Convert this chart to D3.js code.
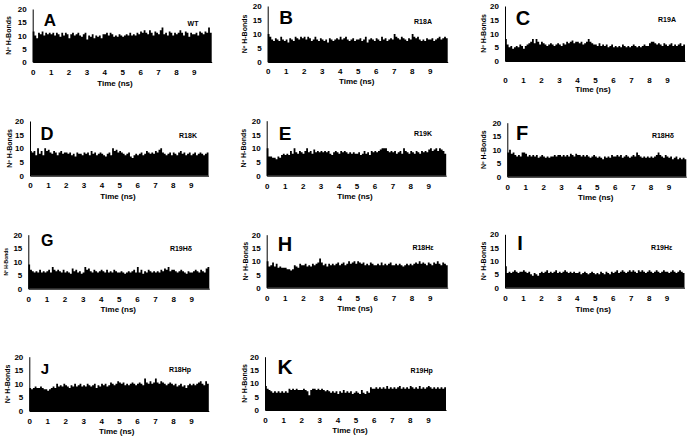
<!DOCTYPE html>
<html lang="en">
<head>
<meta charset="utf-8">
<title>H-Bonds panels</title>
<script src="https://cdn.jsdelivr.net/npm/d3@7"></script>
<style>
  body { margin: 0; background: #fff; }
  svg text { font-family: "Liberation Sans", Arial, sans-serif; font-weight: bold; fill: #000; }
</style>
</head>
<body>
<script>
// panel letters and series names
var letters = ["A", "B", "C", "D", "E", "F", "G", "H", "I", "J", "K"];
var names = ["WT", "R18A", "R19A", "R18K", "R19K", "R18H\u03b4", "R19H\u03b4", "R18H\u03b5", "R19H\u03b5", "R18Hp", "R19Hp"];
var yTicks = [0, 5, 10, 15, 20];
var xTicks = [0, 1, 2, 3, 4, 5, 6, 7, 8, 9];
var step = 0.1; // ns between samples

// number of H-bonds, one value every 0.1 ns
var wt = [11.5,10,9,11,10.5,11.5,10,11,10.5,11, 10.5,11,10,11,10.5,9.5,11,10,11,10.5,
  9,10.5,11,10,10.5,11,10,9.5,10.5,11, 8.5,10,9.5,10.5,9,10,9.5,10,9,10.5,
  10.5,11,10,11,10.5,9.5,10,9.5,10.5,10, 9.5,10,10.5,10,11,10,10.5,10,11,10.5,
  11.5,11,12,11,10.5,12,11,10,11.5,11, 10.5,12,13,10.5,11,10,11.5,11,10,11,
  10.5,11,12,11,10,11.5,11,9.5,11,10.5, 10.5,11,10,11.5,11,10.5,11.5,11,13,11];
var r18a = [10,9,8,7.5,8.5,8,7.5,9,8,7.5, 8,7,8.5,8,7.5,9,8.5,8,9,8.5,
  9,8,9,8.5,7.5,8,9,8,7.5,8.5, 8,7.5,8,7,8.5,8,7.5,8,8.5,8,
  9,8,8.5,9,8,7.5,8,8.5,7.5,8, 8,8.5,7.5,8,9,7,8,8.5,8,7.5,
  8.5,8,7.5,9,8,8.5,7.5,8,8.5,8, 10,9,8.5,8,9,8.5,8,7.5,8.5,8,
  10,9,8.5,9,8,7.5,8,7.5,8.5,8, 8,8.5,7.5,8,8.5,9,8,8.5,9,8.5];
var r19a = [8,6,5,5.5,4.5,5,5.5,5,6,5.5, 4.5,5.5,6,6.5,7,8,6.5,8,7,6,
  7,6.5,6,5.5,6,6.5,6,5.5,6,6.5, 6,5.5,6.5,6,7,6.5,7,7.5,6.5,7,
  7,6.5,7,6,6.5,7,8,7,6.5,6, 6,5.5,6.5,5.5,6,5.5,6,5,5.5,6,
  5,5.5,5,5.5,5,6,5.5,5,5.5,5, 5.5,6,5.5,5,5.5,5,5.5,6,5.5,5.5,
  6.5,7,7,6.5,6,6.5,6,5.5,6.5,6, 5.5,6,6.5,5.5,6,5.5,6,6.5,5.5,6];
var r18k = [9,8.5,9,7.5,10,8,9,7.5,10,9, 9.5,8.5,8,9,8.5,7.5,8.5,9,8,8.5,
  8.5,8,8.5,7.5,8,7,8.5,8,8,7.5, 8.5,8,8.5,7.5,9,8,8.5,7.5,8,8.5,
  8,7.5,7,8,8.5,7.5,10,9,9.5,8.5, 9,8.5,8,7.5,8,8.5,7,6.5,7.5,8,
  7.5,8,8.5,7.5,8,9,8.5,8,8.5,8, 9,8.5,9.5,10,8.5,8,7.5,8,8.5,7.5,
  8.5,8,7.5,8.5,9,8,8.5,7.5,8,8.5, 7.5,8,8.5,7.5,8,8.5,8,7.5,8,8.5];
var r19k = [10,7,7,6.5,6.5,6,7,6.5,7.5,8, 7.5,8,7.5,9,8,10,8.5,8,9,8.5,
  8,9,10,8.5,9,8,9.5,8.5,9,8.5, 9,8.5,9,8.5,9,8,7.5,8.5,9,8.5,
  8,9,8.5,9,8.5,8,8.5,8,8.5,8, 8,8.5,7.5,8,9,8,8.5,7.5,9,8.5,
  9,8.5,9,9.5,10,10,10,9,8.5,9, 8.5,9,8,8.5,9,8,10,9,8.5,8,
  9,8.5,8,9,8.5,8,9,8.5,9,8.5, 9.5,10,9,9.5,10,9,10,9.5,9,8];
var r18hd = [9,10,8.5,9,8,7.5,8,7.5,9,9, 8.5,7.5,8,7.5,8,7.5,8,7,7.5,8,
  7.5,7,7.5,7,7.5,7.5,8,7.5,8,8, 7.5,8,7.5,8,7.5,8.5,8,7.5,8.5,8,
  8,7.5,8,7.5,8,7.5,7,7.5,8,7.5, 7,7.5,7,6.5,7.5,7,7.5,7,8,7.5,
  7.5,8,7.5,8,7,7.5,8,7.5,7,7.5, 8,7.5,9,8,7.5,7,7.5,7,7.5,7,
  7.5,7,7.5,8,9,8,7.5,7,8,7.5, 7,7.5,6.5,7,7.5,6.5,7,6.5,7,6.5];
var r19hd = [9,7,6.5,6,6.5,6,7,6,6.5,6, 6.5,7,6,8,7,6.5,7,6.5,6,7,
  6,6.5,6,5.5,7.5,6.5,7,6,6.5,5.5, 6,8,7,7.5,6.5,6,7,6.5,6,6.5,
  7,6.5,6,7,6,6.5,6,7,6.5,6, 6,6.5,6,5.5,6,6.5,6,6.5,7,6,
  8,6,7,5.5,6.5,6,7,6.5,6,6.5, 6,6.5,6,7,6.5,7.5,7,8,6.5,7,
  7,6.5,6,6.5,7,6.5,6,5.5,6.5,6, 6,6.5,7,6.5,6,7,6.5,6,7.5,8];
var r18he = [10,8,8.5,9.5,8,9,7.5,8,7.5,7.5, 7.5,7,7,6.5,7,8.5,8,7.5,9,8.5,
  8.5,9,8,8.5,8,9,8.5,9,9.5,11, 9.5,8.5,9,8,9,8.5,9,8.5,9,9.5,
  8.5,9,9.5,8.5,9,10,9,9.5,10,9, 10,9.5,9,9.5,8.5,9,8.5,9.5,9,8.5,
  8.5,9,8.5,9.5,8.5,9,8.5,9,9.5,8.5, 8.5,9,8.5,9,8.5,8,8.5,9,8.5,9,
  8.5,9,9.5,9,10,9,9.5,9,8.5,9.5, 9,8.5,9.5,9,10,9,8.5,9.5,9,8.5];
var r19he = [8,5.5,6,5.5,6,6.5,6,5.5,6,6, 6.5,6,5.5,6,5,4.5,5.5,5,4.5,5.5,
  6,5.5,6,6.5,5.5,6,5.5,6,6.5,5.5, 6,5.5,6,6.5,6,5.5,6,5.5,6,5.5,
  5.5,6,5,5.5,6,5.5,5,5.5,6,5.5, 5,5.5,5,6,5.5,5,6,5.5,5,6,
  5.5,6,6.5,5.5,6,6.5,6,5.5,6,6.5, 6,6.5,6,5.5,6.5,6,6.5,6,5.5,6,
  6.5,6,5.5,6,6.5,6,5.5,6,6.5,6, 6,5.5,6,6.5,6,5.5,6,6.5,6,5.5];
var r18hp = [8.5,8,8.5,9,8.5,8.5,9,8.5,8,8, 7.5,8,8.5,9,8.5,10,9,9.5,9,10,
  9.5,9,8.5,9.5,9,10,9,9.5,10,9, 9.5,9,10,9.5,9,9.5,10,8.5,9.5,9,
  10,9.5,10,9,9.5,10.5,10,9.5,10,11, 10.5,10,10.5,9.5,10,9.5,10,10.5,10,9.5,
  10,10.5,10,9.5,12,10.5,10,11,10,10.5, 12,10.5,10,11,10.5,10,9.5,10,10.5,10,
  9.5,10,9,9.5,10,9,9.5,8.5,9.5,10, 9.5,10,9.5,10,10.5,11,10,9.5,11,10];
var r19hp = [9,8,7.5,7,6.5,7,6.5,7,6.5,7, 6.5,7,6.5,8,7.5,8,7.5,8,7.5,7.5,
  7.5,8,7.5,7,5.5,7.5,8,8,7.5,8, 7.5,8,7.5,7,7.5,7,6.5,7,6.5,7,
  6,7,6.5,7.5,6.5,7,6.5,7,6,6.5, 7,6.5,6,7.5,6.5,6,7,6.5,8.5,8,
  8,8.5,8,8.5,8,8.5,8,9,8,8.5, 8,8.5,8,8.5,9,8,8.5,8,8.5,8,
  9,8.5,8,8.5,8,9,8,8.5,8,8.5, 9,8.5,8,8.5,8,8.5,8,8.5,8,8.5];

var series = [wt, r18a, r19a, r18k, r19k, r18hd, r19hd, r18he, r19he, r18hp, r19hp];

// panel placement (pixels)
var layout = [
  {ox: 32.7, oy: 62, top: 9, dx: 17.9, tickY: 75, timeX: 115, timeY: 86, yLabX: 8, letX: 50, letY: 26, letS: 17, serX: 193, serY: 25.5},
  {ox: 267.7, oy: 62, top: 6, dx: 18, tickY: 74, timeX: 356.7, timeY: 84, yLabX: 244, letX: 286, letY: 24, letS: 19, serX: 423, serY: 23.5},
  {ox: 505, oy: 61, top: 6, dx: 18, tickY: 83, timeX: 593, timeY: 92, yLabX: 483, letX: 523, letY: 25, letS: 20, serX: 667, serY: 21.5},
  {ox: 30, oy: 175.7, top: 121, dx: 17.85, tickY: 188, timeX: 118, timeY: 199, yLabX: 9, letX: 47, letY: 139.7, letS: 18, serX: 188, serY: 137.5},
  {ox: 266.7, oy: 175.7, top: 120.7, dx: 17.95, tickY: 188.7, timeX: 355, timeY: 199, yLabX: 243, letX: 285, letY: 139.7, letS: 19, serX: 423, serY: 135.5},
  {ox: 507.3, oy: 176.7, top: 122.7, dx: 17.9, tickY: 189.7, timeX: 595.7, timeY: 200.3, yLabX: 483, letX: 522, letY: 140, letS: 20, serX: 663, serY: 137.5},
  {ox: 28.3, oy: 288.7, top: 234.7, dx: 18.1, tickY: 301.7, timeX: 118.3, timeY: 312.3, yLabX: 5, letX: 47.3, letY: 246, letS: 16, serX: 181, serY: 250.5, yLabS: 5},
  {ox: 266.7, oy: 287.7, top: 234.7, dx: 18.1, tickY: 300.7, timeX: 355, timeY: 311, yLabX: 245, letX: 285, letY: 251, letS: 20, serX: 423, serY: 249.5},
  {ox: 505, oy: 287.7, top: 234.3, dx: 17.95, tickY: 300.7, timeX: 593.3, timeY: 312.3, yLabX: 483, letX: 520, letY: 250, letS: 20, serX: 661.7, serY: 249.5},
  {ox: 29.3, oy: 411, top: 356.7, dx: 17.95, tickY: 423.7, timeX: 116.7, timeY: 433.7, yLabX: 7, letX: 45, letY: 374, letS: 15, serX: 180, serY: 372},
  {ox: 265, oy: 410, top: 356.7, dx: 18.1, tickY: 423, timeX: 350, timeY: 433, yLabX: 244, letX: 285, letY: 374.3, letS: 21, serX: 421.7, serY: 373}
];

var w = 689, h = 438;

var svg = d3.select("body")
  .append("svg")
  .attr("width", w)
  .attr("height", h);

series.forEach(function(vals, i) {
  var L = layout[i];

  var xScale = d3.scaleLinear()
    .domain([0, 10])
    .range([L.ox, L.ox + 10 * L.dx]);

  var yScale = d3.scaleLinear()
    .domain([0, 20])
    .range([L.oy, L.top]);

  var pts = vals.map(function(v, k) { return {t: k * step, v: v}; });
  pts.push({t: 10, v: vals[vals.length - 1]});

  var area = d3.area()
    .x(function(d) { return xScale(d.t); })
    .y0(yScale(0))
    .y1(function(d) { return yScale(d.v); })
    .curve(d3.curveStepAfter);

  var g = svg.append("g");

  g.append("path")
    .datum(pts)
    .attr("d", area)
    .attr("fill", "#000");

  //Y axis
  var yAxis = d3.axisLeft(yScale)
    .tickValues(yTicks)
    .tickSize(0)
    .tickPadding(6);
  var ya = g.append("g")
    .attr("transform", "translate(" + L.ox + ",0)")
    .call(yAxis);

  //X axis
  var xAxis = d3.axisBottom(xScale)
    .tickValues(xTicks)
    .tickSize(0)
    .tickPadding(L.tickY - L.oy - 5.7);
  var xa = g.append("g")
    .attr("transform", "translate(0," + L.oy + ")")
    .call(xAxis);

  [ya, xa].forEach(function(a) {
    a.select(".domain").attr("stroke", "#000").attr("stroke-width", 1);
    a.selectAll("text")
      .attr("font-size", "8px")
      .attr("font-family", "'Liberation Sans', Arial, sans-serif")
      .attr("font-weight", "bold")
      .attr("fill", "#000");
  });

  g.append("text")
    .attr("x", L.timeX)
    .attr("y", L.timeY)
    .attr("text-anchor", "middle")
    .attr("font-size", "8px")
    .text("Time (ns)");

  g.append("text")
    .attr("transform", "translate(" + (L.yLabX + 2.5) + "," + ((L.oy + L.top) / 2) + ") rotate(-90)")
    .attr("text-anchor", "middle")
    .attr("font-size", (L.yLabS || 7) + "px")
    .text("N\u00ba H-Bonds");

  g.append("text")
    .attr("x", L.letX)
    .attr("y", L.letY)
    .attr("text-anchor", "middle")
    .attr("font-size", L.letS + "px")
    .text(letters[i]);

  g.append("text")
    .attr("x", L.serX)
    .attr("y", L.serY)
    .attr("text-anchor", "middle")
    .attr("font-size", "7px")
    .text(names[i]);
});
</script>
</body>
</html>
